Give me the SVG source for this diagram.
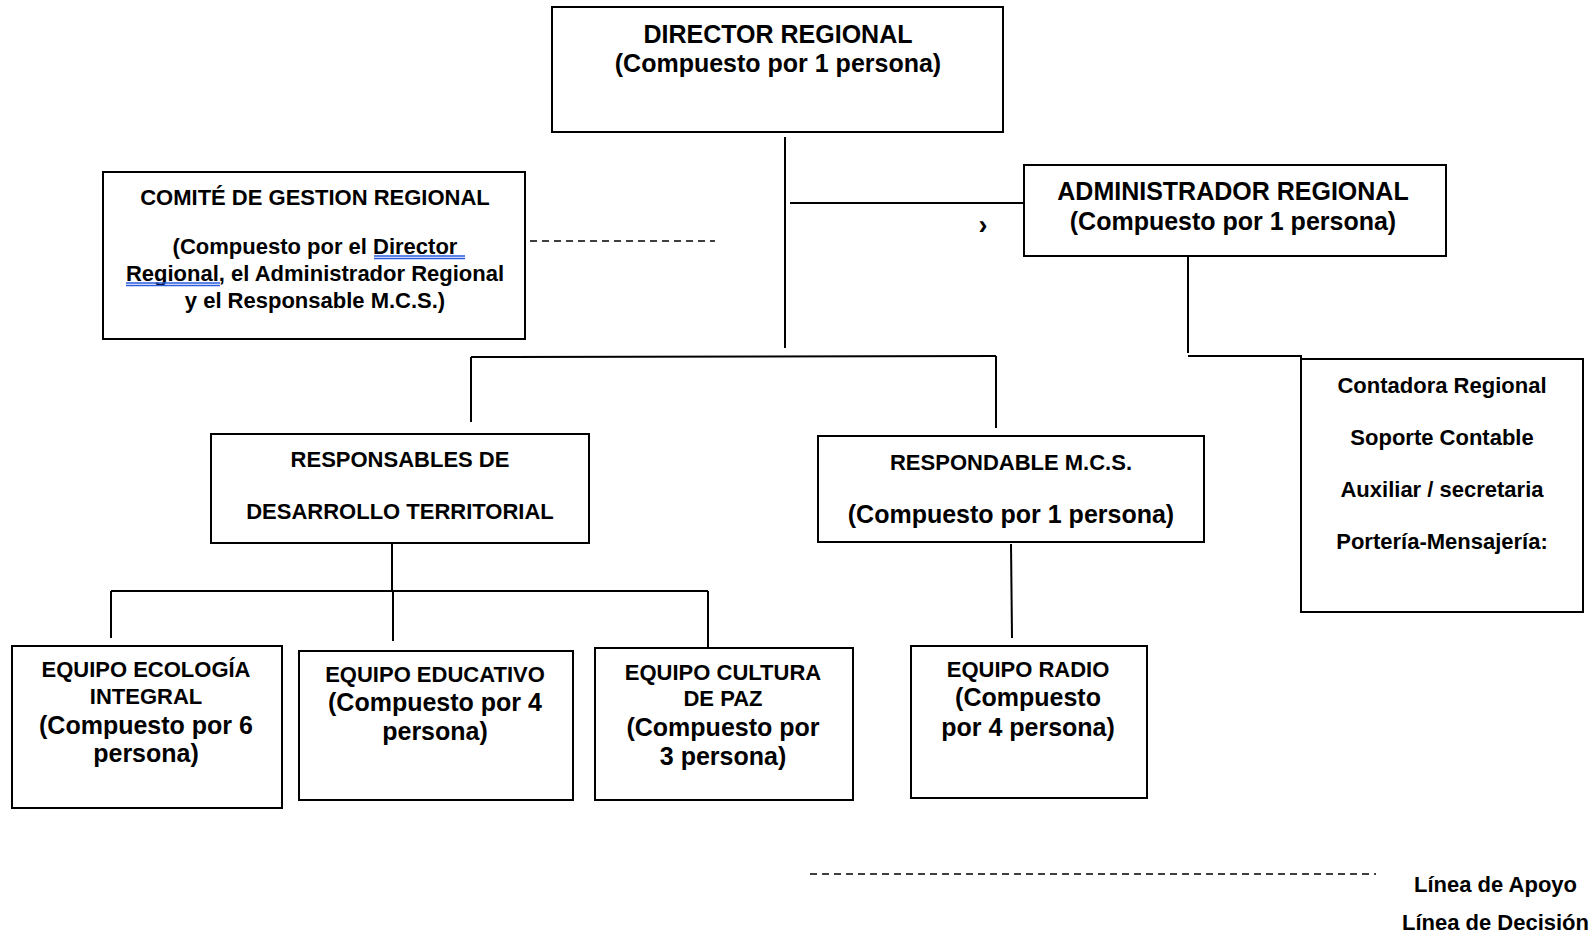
<svg xmlns="http://www.w3.org/2000/svg" width="1594" height="937" viewBox="0 0 1594 937">
<style>
.box{fill:#fff;stroke:#000;stroke-width:2}
.ln{fill:none;stroke:#000;stroke-width:2}
.dash{fill:none;stroke:#000;stroke-width:1.5;stroke-dasharray:7 5}
text{font-family:"Liberation Sans",Arial,sans-serif;font-weight:bold;fill:#000;text-anchor:middle}
.s{font-size:22px}
.b{font-size:25px}
.sq{stroke:#2a5be0;stroke-width:1.4;fill:none}
</style>
<rect width="1594" height="937" fill="#fff"/>
<g id="connectors">
<line class="ln" x1="785" y1="137" x2="785" y2="348"/>
<line class="ln" x1="790" y1="203" x2="1024" y2="203"/>
<line class="dash" x1="530" y1="241" x2="715" y2="241"/>
<line class="ln" x1="471" y1="357" x2="996" y2="356"/>
<line class="ln" x1="471" y1="357" x2="471" y2="422"/>
<line class="ln" x1="996" y1="356" x2="996" y2="428"/>
<line class="ln" x1="1188" y1="254" x2="1188" y2="353"/>
<polyline class="ln" points="1188,356 1301,356 1301,359"/>
<line class="ln" x1="392" y1="536" x2="392" y2="591"/>
<line class="ln" x1="111" y1="591" x2="708" y2="591"/>
<line class="ln" x1="111" y1="591" x2="111" y2="638"/>
<line class="ln" x1="393" y1="591" x2="393" y2="641"/>
<line class="ln" x1="708" y1="591" x2="708" y2="648"/>
<line class="ln" x1="1011" y1="544" x2="1012" y2="638"/>
<text x="983" y="234" style="font-size:27px">›</text>
</g>
<g id="director">
<rect class="box" x="552" y="7" width="451" height="125"/>
<text x="778" y="43" class="b">DIRECTOR REGIONAL</text>
<text x="778" y="72" class="b">(Compuesto por 1 persona)</text>
</g>
<g id="comite">
<rect class="box" x="103" y="172" width="422" height="167"/>
<text x="315" y="205" class="s">COMITÉ DE GESTION REGIONAL</text>
<text x="315" y="254" class="s">(Compuesto por el Director</text>
<text x="315" y="281" class="s">Regional, el Administrador Regional</text>
<text x="315" y="308" class="s">y el Responsable M.C.S.)</text>
<path class="sq" d="M374 256H465M374 258.5H465M126 283H220M126 285.5H220"/>
</g>
<g id="administrador">
<rect class="box" x="1024" y="165" width="422" height="91"/>
<text x="1233" y="200" class="b">ADMINISTRADOR REGIONAL</text>
<text x="1233" y="230" class="b">(Compuesto por 1 persona)</text>
</g>
<g id="contadora">
<rect class="box" x="1301" y="359" width="282" height="253"/>
<text x="1442" y="393" class="s">Contadora Regional</text>
<text x="1442" y="445" class="s">Soporte Contable</text>
<text x="1442" y="497" class="s">Auxiliar / secretaria</text>
<text x="1442" y="549" class="s">Portería-Mensajería:</text>
</g>
<g id="responsables">
<rect class="box" x="211" y="434" width="378" height="109"/>
<text x="400" y="467" class="s">RESPONSABLES DE</text>
<text x="400" y="519" class="s">DESARROLLO TERRITORIAL</text>
</g>
<g id="mcs">
<rect class="box" x="818" y="436" width="386" height="106"/>
<text x="1011" y="470" class="s">RESPONDABLE M.C.S.</text>
<text x="1011" y="523" class="b">(Compuesto por 1 persona)</text>
</g>
<g id="ecologia">
<rect class="box" x="12" y="646" width="270" height="162"/>
<text x="146" y="677" class="s">EQUIPO ECOLOGÍA</text>
<text x="146" y="704" class="s">INTEGRAL</text>
<text x="146" y="734" class="b">(Compuesto por 6</text>
<text x="146" y="762" class="b">persona)</text>
</g>
<g id="educativo">
<rect class="box" x="299" y="651" width="274" height="149"/>
<text x="435" y="682" class="s">EQUIPO EDUCATIVO</text>
<text x="435" y="711" class="b">(Compuesto por 4</text>
<text x="435" y="740" class="b">persona)</text>
</g>
<g id="cultura">
<rect class="box" x="595" y="648" width="258" height="152"/>
<text x="723" y="680" class="s">EQUIPO CULTURA</text>
<text x="723" y="706" class="s">DE PAZ</text>
<text x="723" y="736" class="b">(Compuesto por</text>
<text x="723" y="765" class="b">3 persona)</text>
</g>
<g id="radio">
<rect class="box" x="911" y="646" width="236" height="152"/>
<text x="1028" y="677" class="s">EQUIPO RADIO</text>
<text x="1028" y="706" class="b">(Compuesto</text>
<text x="1028" y="736" class="b">por 4 persona)</text>
</g>
<g id="legend">
<line class="dash" x1="810" y1="874" x2="1376" y2="874"/>
<text x="1577" y="892" class="s" style="text-anchor:end">Línea de Apoyo</text>
<text x="1589" y="930" class="s" style="text-anchor:end">Línea de Decisión</text>
</g>
</svg>
